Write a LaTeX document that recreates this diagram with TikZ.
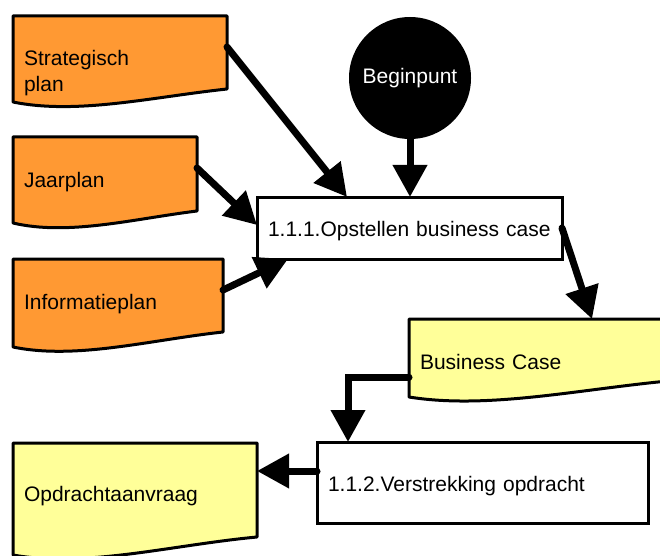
\documentclass[tikz,border=0pt]{standalone}
\usepackage{fontspec}
\setmainfont{Liberation Sans}
\usetikzlibrary{arrows.meta,% filled triangle tips
calc,%                       points between anchors
backgrounds}
\definecolor{planorange}{RGB}{255,153,51}
\definecolor{docyellow}{RGB}{255,255,153}
\tikzset{every node/.style={font=\fontsize{21}{26}\selectfont},
  docnode/.style={anchor=north west, inner xsep=11pt, inner ysep=0pt,
    outer sep=0pt, align=left},
  procbox/.style={draw, line width=3pt, fill=white, anchor=north west,
    inner xsep=11pt, inner ysep=0pt, outer sep=0pt, align=left,
    text height=22pt},
  docline/.style={line width=3pt, line join=round},
  flow/.style={-{Triangle[length=32pt,width=33pt]}, line width=7pt,
    line cap=round}}
\newcommand{\docshape}[4]
{\coordinate (#1-r) at ([yshift=-#2]#1.north east);
  \coordinate (#1-l) at ([yshift=-#3]#1.north west);
  \begin{pgfonlayer}{background}
  \draw[docline, fill=#4] (#1.north west) -- (#1.north east) -- (#1-r)
     .. controls ($(#1-r)!0.35!(#1-r -| #1-l)+(0,-8)$)
     and ($(#1-l)!0.3!(#1-l -| #1-r)+(0,-13)$) .. (#1-l) -- cycle;
  \end{pgfonlayer}}

\begin{document}
\begin{tikzpicture}[x=1pt,y=1pt]
  \useasboundingbox (0,0) rectangle (660,555);
  \node[docnode, text width=192pt, minimum height=114.4pt] (strat) at (13,539) {Strategisch\\plan};
  \node[docnode, text width=162pt, minimum height=91pt] (jaar) at (13,418) {Jaarplan};
  \node[docnode, text width=188pt, minimum height=91pt] (info) at (13,296) {Informatieplan};
  \node[docnode, text width=248pt, minimum height=85pt] (bcase) at (409,236) {Business Case};
  \node[docnode, text width=222pt, minimum height=106.4pt] (opdr) at (13,112) {Opdrachtaanvraag};
  \foreach \d/\h/\l/\c in {strat/73pt/86pt/planorange, jaar/74pt/86pt/planorange,
    info/73pt/88pt/planorange, bcase/61pt/78pt/docyellow, opdr/94pt/112pt/docyellow}
    \docshape{\d}{\h}{\l}{\c};
  \node[circle, fill=black, text=white, minimum size=122pt, inner sep=0pt,
    outer sep=0pt] (begin) at (410,477) {Beginpunt};
  \node[procbox, text width=283pt, minimum height=62pt] (proc1) at (257,358) {1.1.1.Opstellen business case};
  \node[procbox, text width=309pt, minimum height=81pt] (proc2) at (317,113) {1.1.2.Verstrekking opdracht};
  \draw[flow] ([yshift=-31pt]strat.north east) -- ([xshift=90pt]proc1.north west);
  \draw[flow] ([yshift=-31pt]jaar.north east) -- ([yshift=3pt]proc1.west);
  \draw[flow] ([yshift=-31pt]info.north east) -- ([xshift=31pt]proc1.south west);
  \draw[flow] (begin.south) -- (begin.south |- proc1.north);
  \draw[flow] (proc1.east) -- ([xshift=183pt]bcase.north west);
  \draw[flow] ([yshift=-58pt]bcase.north west) -| ([xshift=31pt]proc2.north west);
  \coordinate (p2out) at ([yshift=11.5pt]proc2.west);
  \draw[flow] (p2out) -- (p2out -| opdr.east);
\end{tikzpicture}
\end{document}
